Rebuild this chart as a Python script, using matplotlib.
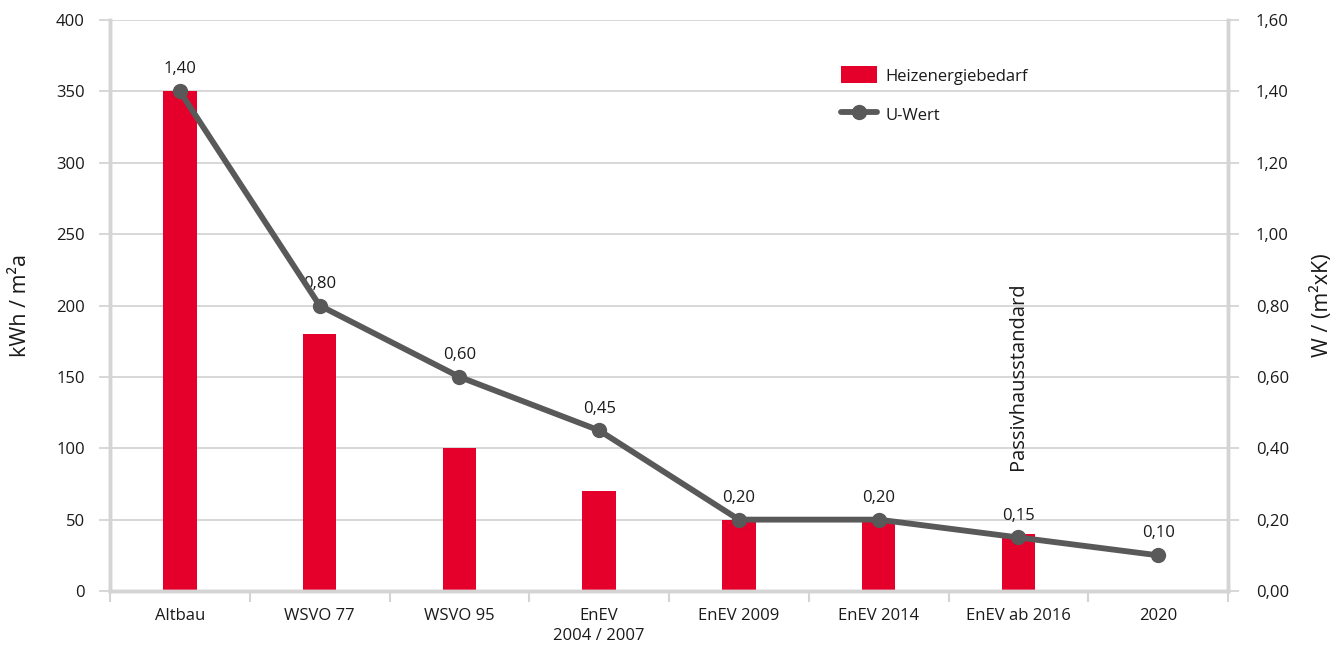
import matplotlib
matplotlib.use("Agg")
import matplotlib.pyplot as plt
from matplotlib.ticker import FuncFormatter

plt.rcParams['font.family'] = ['Open Sans', 'DejaVu Sans']

categories = ["Altbau", "WSVO 77", "WSVO 95", "EnEV\n2004 / 2007", "EnEV 2009",
              "EnEV 2014", "EnEV ab 2016", "2020"]
heizenergie = [350, 180, 100, 70, 50, 50, 40, 0]
u_wert = [1.40, 0.80, 0.60, 0.45, 0.20, 0.20, 0.15, 0.10]
u_labels = ["1,40", "0,80", "0,60", "0,45", "0,20", "0,20", "0,15", "0,10"]

BAR = "#e4002b"
LINE = "#595959"
GRID = "#d4d4d4"
TXT = "#1a1a1a"

fig = plt.figure(figsize=(13.44, 6.48), dpi=100)
ax = fig.add_axes([110/1344, 57/648, 1118/1344, 571/648])
ax2 = ax.twinx()

x = list(range(len(categories)))
bars = ax.bar(x, heizenergie, width=0.24, color=BAR, zorder=2, label="Heizenergiebedarf")
ax.set_xlim(-0.5, len(categories) - 0.5)
ax.set_ylim(0, 400)
ax.set_yticks(range(0, 401, 50))
ax.yaxis.grid(True, color=GRID, lw=1.3, zorder=0)
ax.set_axisbelow(True)

line, = ax2.plot(x, u_wert, color=LINE, lw=4.2, marker="o", markersize=10,
                 zorder=5, label="U-Wert", solid_capstyle="round")
ax2.set_ylim(0, 1.6)
ax2.set_yticks([i * 0.2 for i in range(9)])
ax2.yaxis.set_major_formatter(FuncFormatter(lambda v, p: f"{v:.2f}".replace(".", ",")))

for xi, yi, lab in zip(x, u_wert, u_labels):
    ax2.annotate(lab, (xi, yi), xytext=(0, 10), textcoords="offset points",
                 ha="center", va="bottom", fontsize=12, color=TXT)

# x ticks at category boundaries, labels at centers
ax.set_xticks([i - 0.5 for i in range(len(categories) + 1)])
ax.set_xticklabels([])
ax.set_xticks(x, minor=True)
ax.set_xticklabels(categories, minor=True, fontsize=12, color=TXT, linespacing=1.35)
ax.tick_params(axis="x", which="minor", length=0, pad=12)
ax.tick_params(axis="x", which="major", length=8, width=1.5, color=GRID, direction="out")

ax.tick_params(axis="y", length=8, width=1.3, color=GRID, labelsize=12, labelcolor=TXT, pad=10)
ax2.tick_params(axis="y", length=8, width=1.3, color=GRID, labelsize=12, labelcolor=TXT, pad=12)

for a in (ax, ax2):
    a.spines["top"].set_visible(False)
    for s in ("left", "right", "bottom"):
        a.spines[s].set_color(GRID)
        a.spines[s].set_linewidth(2.5)

ax.set_ylabel("kWh / m²a", fontsize=15.5, color=TXT, labelpad=18)
ax2.set_ylabel("W / (m²xK)", fontsize=15.5, color=TXT, labelpad=16)

ax.text(6, 85, "Passivhausstandard", rotation=90, ha="center", va="bottom",
        fontsize=14.5, color=TXT, zorder=6)

leg = ax2.legend([bars, line], ["Heizenergiebedarf", "U-Wert"], loc="upper left",
                 bbox_to_anchor=(0.64, 0.945), frameon=False, fontsize=12,
                 labelspacing=1.25, handlelength=2.2, handleheight=1.2, handletextpad=0.5)
for t in leg.get_texts():
    t.set_color(TXT)

fig.savefig("out.png", dpi=100, facecolor="white")
